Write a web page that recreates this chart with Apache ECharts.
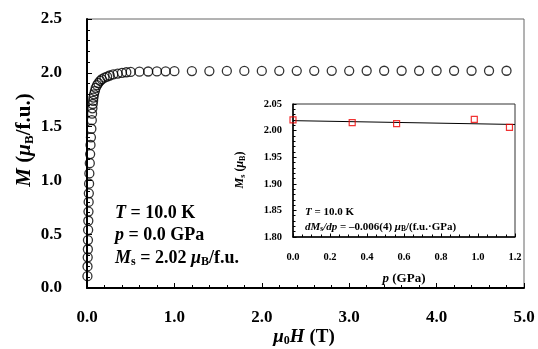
<!DOCTYPE html>
<html><head><meta charset="utf-8">
<script src="https://cdn.jsdelivr.net/npm/echarts@6/dist/echarts.min.js"></script>
<style>html,body{margin:0;padding:0;background:#fff}#c{width:538px;height:349px}</style>
</head><body><div id="c"></div>
<script>
// Main M(H) data
const fieldT = [0.005,0.006,0.008,0.010,0.011,0.013,0.015,0.017,0.019,0.021,0.024,0.027,0.032,0.036,0.040,0.045,0.050,0.055,0.058,0.062,0.066,0.070,0.074,0.080,0.090,0.100,0.115,0.13,0.15,0.17,0.20,0.23,0.26,0.30,0.35,0.40,0.45,0.50,0.60,0.70,0.80,0.90,1.00,1.2,1.4,1.6,1.8,2.0,2.2,2.4,2.6,2.8,3.0,3.2,3.4,3.6,3.8,4.0,4.2,4.4,4.6,4.8];
const magM   = [0.11,0.20,0.285,0.36,0.445,0.54,0.625,0.71,0.80,0.88,0.97,1.065,1.16,1.245,1.33,1.40,1.48,1.56,1.62,1.67,1.71,1.74,1.77,1.80,1.83,1.86,1.885,1.905,1.925,1.94,1.955,1.965,1.975,1.985,1.993,2.0,2.005,2.008,2.01,2.012,2.013,2.014,2.015,2.016,2.016,2.017,2.017,2.017,2.018,2.018,2.018,2.018,2.018,2.019,2.019,2.019,2.019,2.019,2.019,2.019,2.019,2.019];
// Inset Ms(p) data
const pressureGPa = [0.0, 0.32, 0.56, 0.98, 1.17];
const msValues    = [2.020, 2.015, 2.013, 2.021, 2.006];
const fitP  = [0.0, 1.2];
const fitMs = [2.0187, 2.0115];
// Tick labels
const mainXTicks = ['0.0','1.0','2.0','3.0','4.0','5.0'];
const mainYTicks = ['0.0','0.5','1.0','1.5','2.0','2.5'];
const insetXTicks = ['0.0','0.2','0.4','0.6','0.8','1.0','1.2'];
const insetYTicks = ['1.80','1.85','1.90','1.95','2.00','2.05'];

const serif = '"Liberation Serif","Times New Roman",serif';
const chart = echarts.init(document.getElementById('c'), null, {renderer:'canvas'});

function pick(arr, v, min, step){ const i = Math.round((v-min)/step); return arr[i] !== undefined ? arr[i] : ''; }

const axisBase = (lw) => ({
  axisLine:{show:true, onZero:false, lineStyle:{color:'#000', width:lw}},
  axisTick:{show:true, inside:true, length:5, lineStyle:{color:'#000', width:1}},
  minorTick:{show:true, splitNumber:5, length:3, lineStyle:{color:'#000', width:1}},
  splitLine:{show:false}
});

const option = {
  animation:false,
  backgroundColor:'#fff',
  grid:[
    {left:87, right:14, top:19, bottom:61, show:true, borderColor:'#666', borderWidth:1, backgroundColor:'transparent'},
    {left:293, right:23, top:104, bottom:112, show:true, borderColor:'#333', borderWidth:1, backgroundColor:'#fff'}
  ],
  xAxis:[
    Object.assign(axisBase(2), {gridIndex:0, type:'value', min:0, max:5, interval:1,
      axisLabel:{margin:21, fontFamily:serif, fontWeight:'bold', fontSize:17, color:'#000', formatter:v=>pick(mainXTicks,v,0,1)}}),
    Object.assign(axisBase(1.5), {gridIndex:1, type:'value', min:0, max:1.2, interval:0.2,
      minorTick:{show:true, splitNumber:4, length:2.5, lineStyle:{color:'#000', width:1}},
      axisTick:{show:true, inside:true, length:3.5, lineStyle:{color:'#000'}},
      axisLabel:{margin:15, fontFamily:serif, fontWeight:'bold', fontSize:10.5, color:'#000', formatter:v=>pick(insetXTicks,v,0,0.2)}})
  ],
  yAxis:[
    Object.assign(axisBase(2), {gridIndex:0, type:'value', min:0, max:2.5, interval:0.5,
      axisLabel:{margin:25, fontFamily:serif, fontWeight:'bold', fontSize:17, color:'#000', formatter:v=>pick(mainYTicks,v,0,0.5)}}),
    Object.assign(axisBase(1.5), {gridIndex:1, type:'value', min:1.80, max:2.05, interval:0.05,
      minorTick:{show:true, splitNumber:5, length:2.5, lineStyle:{color:'#000', width:1}},
      axisTick:{show:true, inside:true, length:3.5, lineStyle:{color:'#000'}},
      axisLabel:{margin:11, fontFamily:serif, fontWeight:'bold', fontSize:10.5, color:'#000', formatter:v=>pick(insetYTicks,v,1.80,0.05)}})
  ],
  series:[
    {type:'scatter', xAxisIndex:0, yAxisIndex:0, symbol:'circle', symbolSize:9, clip:false,
      itemStyle:{color:'rgba(0,0,0,0)', borderColor:'#000', borderWidth:1.3},
      data: fieldT.map((h,i)=>[h, magM[i]]), z:3},
    {type:'line', xAxisIndex:1, yAxisIndex:1, symbol:'none', lineStyle:{color:'#000', width:1},
      data: fitP.map((p,i)=>[p, fitMs[i]]), z:4},
    {type:'scatter', xAxisIndex:1, yAxisIndex:1, symbol:'rect', symbolSize:6, clip:false,
      itemStyle:{color:'rgba(0,0,0,0)', borderColor:'#e00', borderWidth:1.2},
      data: pressureGPa.map((p,i)=>[p, msValues[i]]), z:5}
  ],
  graphic:[
    {type:'text', x:25, y:140, rotation:Math.PI/2, z:10,
      style:{text:'{i|M} ({i|μ}{s|B}/f.u.)', fill:'#000', align:'center', verticalAlign:'middle',
        font:'bold 21px '+serif,
        rich:{i:{fontStyle:'italic', fontWeight:'bold', fontSize:21, fontFamily:serif},
              s:{fontWeight:'bold', fontSize:13, fontFamily:serif, padding:[9,0,0,0]}}}},
    {type:'text', x:304, y:337, z:10,
      style:{text:'{i|μ}{s|0}{i|H} (T)', fill:'#000', align:'center', verticalAlign:'middle',
        font:'bold 19px '+serif,
        rich:{i:{fontStyle:'italic', fontWeight:'bold', fontSize:19, fontFamily:serif},
              s:{fontWeight:'bold', fontSize:12, fontFamily:serif, padding:[8,0,0,0]}}}},
    {type:'text', x:115, y:213, z:10,
      style:{text:'{i|T} = 10.0 K', fill:'#000', align:'left', verticalAlign:'middle',
        font:'bold 18px '+serif, rich:{i:{fontStyle:'italic', fontWeight:'bold', fontSize:18, fontFamily:serif}}}},
    {type:'text', x:115, y:235, z:10,
      style:{text:'{i|p} = 0.0 GPa', fill:'#000', align:'left', verticalAlign:'middle',
        font:'bold 18px '+serif, rich:{i:{fontStyle:'italic', fontWeight:'bold', fontSize:18, fontFamily:serif}}}},
    {type:'text', x:115, y:258, z:10,
      style:{text:'{i|M}{s|s} = 2.02 {i|μ}{s|B}/f.u.', fill:'#000', align:'left', verticalAlign:'middle',
        font:'bold 18px '+serif,
        rich:{i:{fontStyle:'italic', fontWeight:'bold', fontSize:18, fontFamily:serif},
              s:{fontWeight:'bold', fontSize:12, fontFamily:serif, padding:[8,0,0,0]}}}},
    {type:'text', x:240, y:170, rotation:Math.PI/2, z:10,
      style:{text:'{i|M}{s|s} ({i|μ}{s|B})', fill:'#000', align:'center', verticalAlign:'middle',
        font:'bold 12px '+serif,
        rich:{i:{fontStyle:'italic', fontWeight:'bold', fontSize:12, fontFamily:serif},
              s:{fontWeight:'bold', fontSize:8, fontFamily:serif, padding:[5,0,0,0]}}}},
    {type:'text', x:404, y:279, z:10,
      style:{text:'{i|p} (GPa)', fill:'#000', align:'center', verticalAlign:'middle',
        font:'bold 13px '+serif, rich:{i:{fontStyle:'italic', fontWeight:'bold', fontSize:13, fontFamily:serif}}}},
    {type:'text', x:305, y:212, z:10,
      style:{text:'{i|T} = 10.0 K', fill:'#000', align:'left', verticalAlign:'middle',
        font:'bold 11px '+serif, rich:{i:{fontStyle:'italic', fontWeight:'bold', fontSize:11, fontFamily:serif}}}},
    {type:'text', x:305, y:227, z:10,
      style:{text:'{i|dM}{s|s}{i|/dp} = –0.006(4) {i|μ}{s|B}/(f.u.·GPa)', fill:'#000', align:'left', verticalAlign:'middle',
        font:'bold 11px '+serif,
        rich:{i:{fontStyle:'italic', fontWeight:'bold', fontSize:11, fontFamily:serif},
              s:{fontWeight:'bold', fontSize:7.5, fontFamily:serif, padding:[4,0,0,0]}}}}
  ]
};
chart.setOption(option);
</script>
</body></html>
